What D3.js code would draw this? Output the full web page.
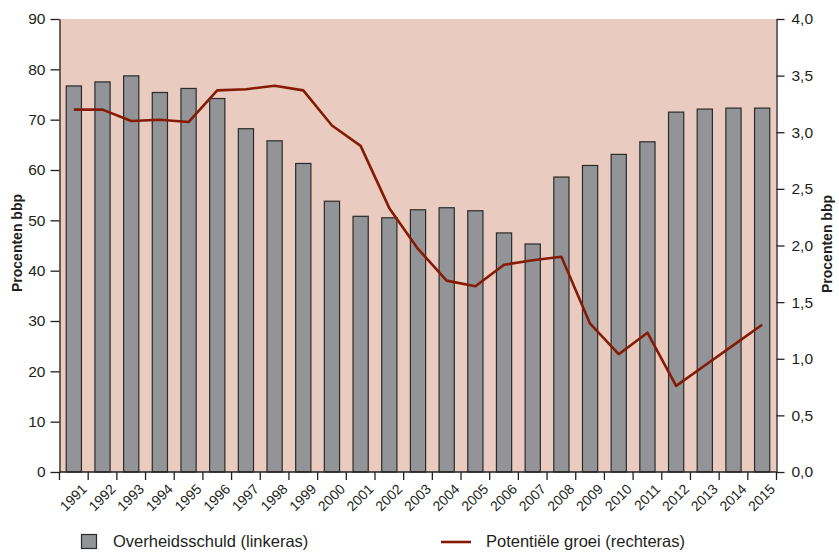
<!DOCTYPE html>
<html>
<head>
<meta charset="utf-8">
<script src="https://cdn.jsdelivr.net/npm/d3@7"></script>
<style>
body{margin:0;background:#fff;font-family:"Liberation Sans",Arial,sans-serif;}
.tick text{fill:#231f20;}
</style>
</head>
<body>
<script>
var years=["1991","1992","1993","1994","1995","1996","1997","1998","1999","2000","2001","2002","2003","2004","2005","2006","2007","2008","2009","2010","2011","2012","2013","2014","2015"];
var schuld=[76.7,77.5,78.7,75.4,76.2,74.2,68.2,65.8,61.3,53.8,50.8,50.5,52.1,52.5,51.9,47.5,45.3,58.6,60.9,63.1,65.6,71.5,72.1,72.3,72.3];
var groei=[3.2,3.2,3.1,3.11,3.09,3.37,3.38,3.41,3.37,3.06,2.88,2.33,1.97,1.69,1.64,1.83,1.87,1.9,1.31,1.04,1.23,0.76,0.94,1.12,1.3];
var leftTicks=[0,10,20,30,40,50,60,70,80,90];
var rightTicks=[0,0.5,1,1.5,2,2.5,3,3.5,4];

window.onload=function(){
	var W=839,H=552;
	var left=59.5,right=776.5,top=19,bottom=472;
	var svg=d3.select("body").append("svg").attr("width",W).attr("height",H);

	var x=d3.scaleBand().domain(years).range([left,right]).paddingInner(0.47).paddingOuter(0.235);
	var xb=d3.scaleBand().domain(years).range([left,right]);
	var yL=d3.scaleLinear().domain([0,90]).range([bottom,top]);
	var yR=d3.scaleLinear().domain([0,4]).range([bottom,top]);

	svg.append("rect").attr("x",left).attr("y",top).attr("width",right-left).attr("height",bottom-top).attr("fill","#e9cbbf");

	svg.selectAll(".bar").data(schuld).enter().append("rect")
		.attr("class","bar")
		.attr("x",function(d,i){return x(years[i]);})
		.attr("width",x.bandwidth())
		.attr("y",function(d){return yL(d);})
		.attr("height",function(d){return bottom-yL(d);})
		.attr("fill","#939498").attr("stroke","#2b2b2b").attr("stroke-width",1.2);

	var line=d3.line()
		.x(function(d,i){return xb(years[i])+xb.bandwidth()/2;})
		.y(function(d){return yR(d);});
	svg.append("path").datum(groei).attr("d",line)
		.attr("fill","none").attr("stroke","#861b05").attr("stroke-width",2.6).attr("stroke-linejoin","round");

	var fmt=function(d){return d3.format(".1f")(d).replace(".",",");};

	var gl=svg.append("g").attr("transform","translate("+left+",0)")
		.call(d3.axisLeft(yL).tickValues(leftTicks).tickSize(9).tickPadding(5).tickSizeOuter(0));
	var gr=svg.append("g").attr("transform","translate("+right+",0)")
		.call(d3.axisRight(yR).tickValues(rightTicks).tickFormat(fmt).tickSize(8).tickPadding(7).tickSizeOuter(0));
	[gl,gr].forEach(function(g){
		g.selectAll("text").attr("font-size","15.5px").attr("font-family","Liberation Sans, Arial, sans-serif");
		g.select(".domain").attr("stroke","#231f20").attr("stroke-width",1.3);
		g.selectAll(".tick line").attr("stroke","#231f20").attr("stroke-width",1.3);
	});

	// x axis: ticks on band boundaries
	var gx=svg.append("g").attr("transform","translate(0,"+bottom+")");
	gx.append("line").attr("x1",left).attr("x2",right).attr("stroke","#231f20").attr("stroke-width",1.3);
	var bounds=years.map(function(y){return xb(y);}).concat([right]);
	gx.selectAll(".bt").data(bounds).enter().append("line")
		.attr("x1",function(d){return d;}).attr("x2",function(d){return d;})
		.attr("y1",0).attr("y2",8).attr("stroke","#231f20").attr("stroke-width",1.3);
	gx.selectAll(".yl").data(years).enter().append("text")
		.attr("transform",function(d){return "translate("+(xb(d)+xb.bandwidth()/2+7)+",11) rotate(-45)";})
		.attr("text-anchor","end").attr("dy","0.7em")
		.attr("font-size","14px").attr("fill","#231f20")
		.text(function(d){return d;});

	svg.append("text").attr("transform","translate(22,243) rotate(-90)")
		.attr("text-anchor","middle").attr("font-size","14px").attr("font-weight","bold").attr("fill","#231f20")
		.text("Procenten bbp");
	svg.append("text").attr("transform","translate(832,244) rotate(-90)")
		.attr("text-anchor","middle").attr("font-size","14px").attr("font-weight","bold").attr("fill","#231f20")
		.text("Procenten bbp");

	// legend
	var lg=svg.append("g");
	lg.append("rect").attr("x",81.5).attr("y",534.5).attr("width",15).attr("height",14)
		.attr("fill","#939498").attr("stroke","#2b2b2b").attr("stroke-width",1.2);
	lg.append("text").attr("x",113).attr("y",547).attr("font-size","16.5px").attr("fill","#231f20").text("Overheidsschuld (linkeras)");
	lg.append("line").attr("x1",441).attr("x2",471).attr("y1",542).attr("y2",542).attr("stroke","#861b05").attr("stroke-width",2.6);
	lg.append("text").attr("x",486).attr("y",547).attr("font-size","16.5px").attr("fill","#231f20").text("Potentiële groei (rechteras)");
};
</script>
</body>
</html>
